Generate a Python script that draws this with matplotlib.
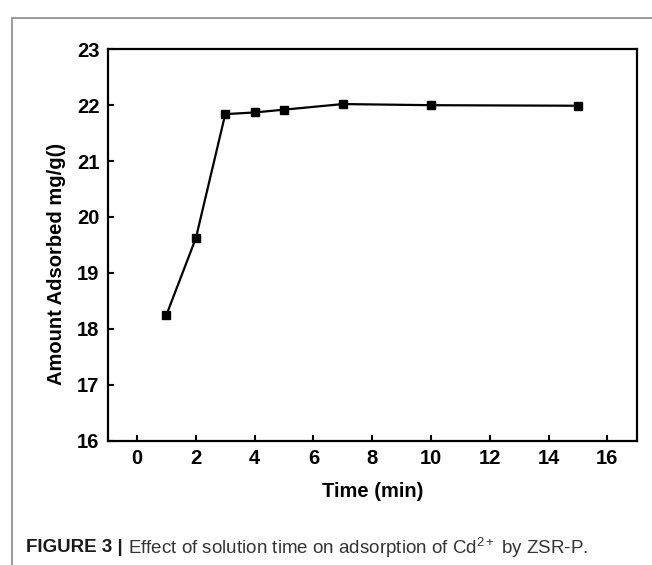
import matplotlib
matplotlib.use("Agg")
import matplotlib.pyplot as plt
from matplotlib.patches import Rectangle

time_min = [1, 2, 3, 4, 5, 7, 10, 15]
amount = [18.25, 19.62, 21.84, 21.87, 21.92, 22.02, 22.00, 21.99]
xticks = [0, 2, 4, 6, 8, 10, 12, 14, 16]
yticks = [16, 17, 18, 19, 20, 21, 22, 23]

plt.rcParams['font.family'] = ['Liberation Sans', 'DejaVu Sans']
plt.rcParams['mathtext.fontset'] = 'custom'
plt.rcParams['mathtext.rm'] = 'Liberation Sans'
plt.rcParams['mathtext.it'] = 'Liberation Sans:italic'
plt.rcParams['mathtext.bf'] = 'Liberation Sans:bold'

W, H = 652, 565
fig = plt.figure(figsize=(W / 100, H / 100), dpi=100)

# outer frame
fig.patches.append(Rectangle((12 / W, -0.1), 1.2, 1 - 18 / H + 0.1,
                             transform=fig.transFigure, fill=False,
                             edgecolor='#8a8a8a', linewidth=1.2))

ax = fig.add_axes([107.7 / W, 1 - 440.5 / H, (636.7 - 107.7) / W, (440.5 - 49.3) / H])
ax.plot(time_min, amount, color='black', linewidth=1.6, marker='s',
        markersize=6, markerfacecolor='black', markeredgecolor='black')
ax.set_xlim(-1, 17)
ax.set_ylim(16, 23)
ax.set_xticks(xticks)
ax.set_yticks(yticks)
for s in ax.spines.values():
    s.set_linewidth(1.6)
ax.tick_params(direction='in', length=4.5, width=1.5, labelsize=14.5, pad=6)
for lab in ax.get_xticklabels() + ax.get_yticklabels():
    lab.set_fontweight('bold')
ax.set_xlabel('Time (min)', fontsize=14.5, fontweight='bold', labelpad=10)
ax.set_ylabel('Amount Adsorbed mg/g()', fontsize=14.5, fontweight='bold')
ax.yaxis.set_label_coords(-0.079, 0.451)

# caption
renderer = fig.canvas.get_renderer()
t1 = fig.text(26 / W, 1 - 548 / H, 'FIGURE 3 |', fontsize=13.5, fontweight='bold',
              color='#1a1a1a', va='center', ha='left')
bb = t1.get_window_extent(renderer=renderer)
fig.text((bb.x1 + 5) / W, 1 - 548 / H,
         r'Effect of solution time on adsorption of Cd$^{2+}$ by ZSR-P.',
         fontsize=13.5, color='#333333', va='center', ha='left')

fig.savefig('out.png', dpi=100)
